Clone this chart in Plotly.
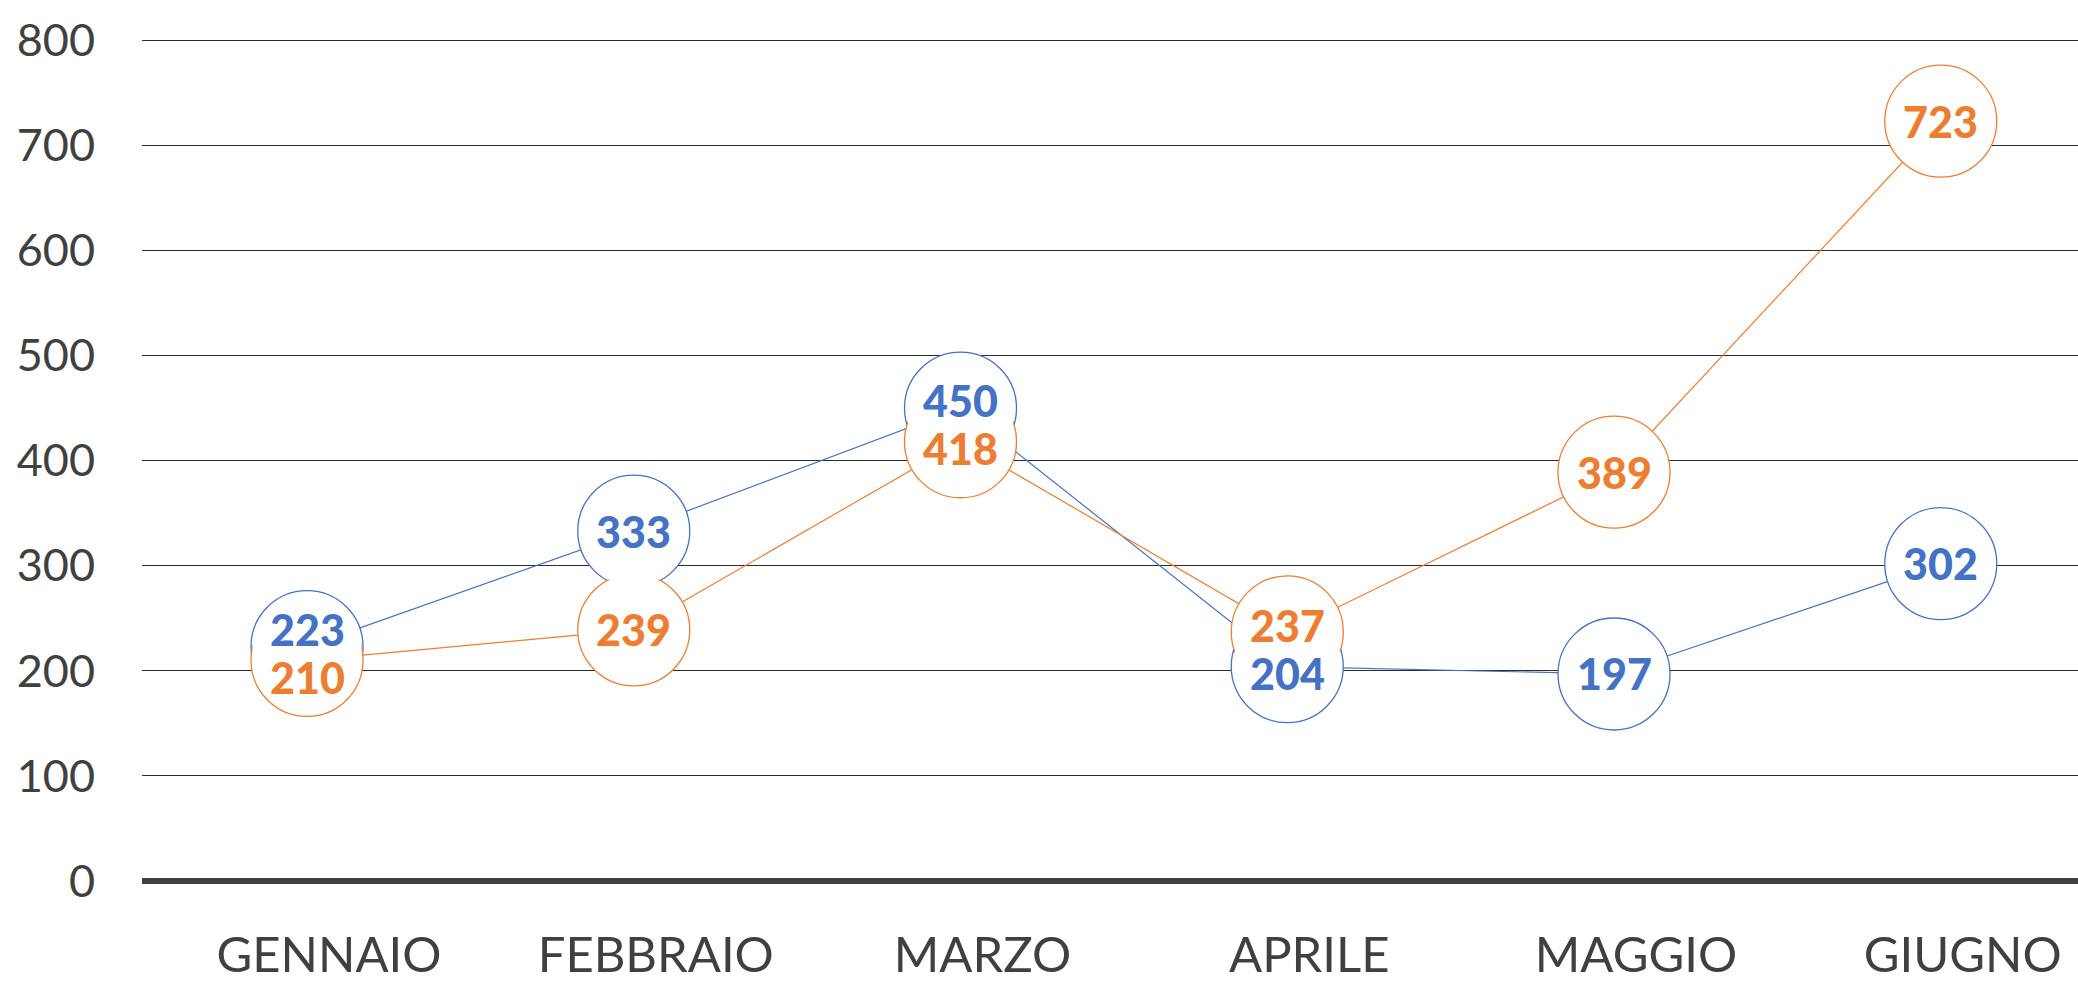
import plotly.graph_objects as go

months = ["GENNAIO", "FEBBRAIO", "MARZO", "APRILE", "MAGGIO", "GIUGNO"]
serie_blu = [223, 333, 450, 204, 197, 302]
serie_arancio = [210, 239, 418, 237, 389, 723]
y_ticks = [0, 100, 200, 300, 400, 500, 600, 700, 800]

BLUE = "#4472C4"
ORANGE = "#ED7D31"
TEXT = "#404040"

W, H = 2078, 983
Y_MAX = 800
Y_TOP = 806
px_per_unit = (881 - 40) / Y_MAX
M_L, M_R, M_B = 142, 0, 102
M_T = round(40 - (Y_TOP - Y_MAX) * px_per_unit)
MSIZE = 112

fig = go.Figure()

# lines (bottom layer)
for vals, col in [(serie_blu, BLUE), (serie_arancio, ORANGE)]:
    fig.add_trace(go.Scatter(x=months, y=vals, mode="lines",
                             line=dict(color=col, width=1.2),
                             hoverinfo="skip", showlegend=False, cliponaxis=False))
# outlined circles
for vals, col in [(serie_blu, BLUE), (serie_arancio, ORANGE)]:
    fig.add_trace(go.Scatter(x=months, y=vals, mode="markers",
                             marker=dict(size=MSIZE, color="white",
                                         line=dict(color=col, width=1.3)),
                             hoverinfo="skip", showlegend=False, cliponaxis=False))
# white fills to hide inner arcs of overlapping circles
for vals in [serie_blu, serie_arancio]:
    fig.add_trace(go.Scatter(x=months, y=vals, mode="markers",
                             marker=dict(size=MSIZE - 3, color="white", line=dict(width=0)),
                             hoverinfo="skip", showlegend=False, cliponaxis=False))

# value labels
annotations = []
SEP = 48
for m, b, o in zip(months, serie_blu, serie_arancio):
    diff_px = abs(b - o) * px_per_unit
    shift = max(0.0, (SEP - diff_px) / 2)
    b_shift = shift if b >= o else -shift
    o_shift = -b_shift
    for v, col, s in [(b, BLUE, b_shift), (o, ORANGE, o_shift)]:
        annotations.append(dict(x=m, y=v, text=str(v), showarrow=False,
                                yshift=s, xanchor="center", yanchor="middle",
                                font=dict(family="Lato", size=43, color=col, weight=900)))

fig.update_layout(
    width=W, height=H,
    margin=dict(l=M_L, r=M_R, t=M_T, b=M_B),
    paper_bgcolor="white", plot_bgcolor="white",
    annotations=annotations,
    font=dict(family="Lato", color=TEXT),
    xaxis=dict(range=[-0.505, 5.42], showgrid=False, showline=False, zeroline=False,
               ticks="", tickfont=dict(family="Lato", size=49, color=TEXT),
               ticklabelstandoff=41, ticklabelshift=22, fixedrange=True,
               automargin=False),
    yaxis=dict(range=[0, Y_TOP], tickvals=y_ticks,
               ticktext=[str(t) for t in y_ticks],
               showgrid=True, gridcolor="#2b2b2b", gridwidth=1,
               zeroline=True, zerolinecolor="#404040", zerolinewidth=6,
               showline=False, ticks="",
               tickfont=dict(family="Lato", size=45, color=TEXT),
               ticklabelstandoff=46, fixedrange=True, automargin=False),
)

fig.write_html("out.html", config={"displayModeBar": False},
               post_script="document.body.style.margin='0';")
